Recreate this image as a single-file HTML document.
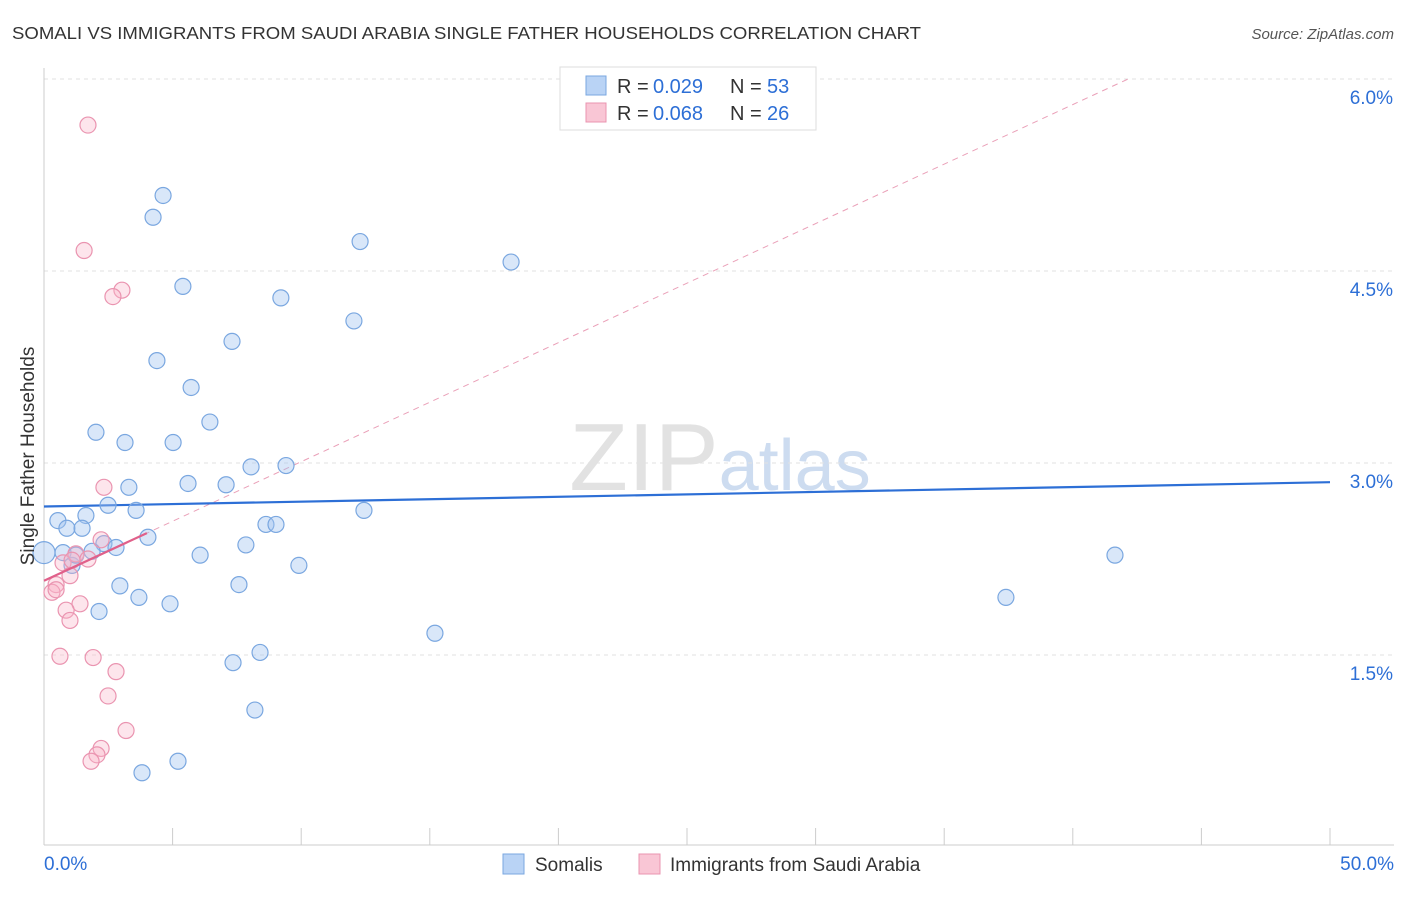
<!DOCTYPE html>
<html><head><meta charset="utf-8"><style>
body{margin:0;background:#fff;font-family:"Liberation Sans",sans-serif;}
svg text{font-family:"Liberation Sans",sans-serif;}
</style></head><body>
<svg id="chart" width="1406" height="892" xmlns="http://www.w3.org/2000/svg">
<text x="12" y="39" font-size="17.5" fill="#333" textLength="909" lengthAdjust="spacingAndGlyphs">SOMALI VS IMMIGRANTS FROM SAUDI ARABIA SINGLE FATHER HOUSEHOLDS CORRELATION CHART</text>
<text x="1394" y="39" font-size="15" fill="#555" text-anchor="end" font-style="italic">Source: ZipAtlas.com</text>
<text x="720" y="490" font-size="96" text-anchor="middle" font-family="Liberation Serif"><tspan fill="#e2e2e2">ZIP</tspan><tspan fill="#cddcf0" font-family="Liberation Sans" font-size="72">atlas</tspan></text>
<g id="grid"></g><g id="axes"></g><g id="lines"></g><g id="points"></g>
<text transform="translate(34,456) rotate(-90)" font-size="19" fill="#333" text-anchor="middle">Single Father Households</text>
<g>
<rect x="560" y="67" width="256" height="63" fill="#fff" stroke="#ddd"/>
<rect x="586" y="76" width="20" height="19" fill="#b9d3f5" stroke="#7aa7e0"/>
<text x="617" y="93" font-size="20" fill="#333">R =</text>
<text x="653" y="93" font-size="20" fill="#2d6fd6">0.029</text>
<text x="730" y="93" font-size="20" fill="#333">N =</text>
<text x="767" y="93" font-size="20" fill="#2d6fd6">53</text>
<rect x="586" y="103" width="20" height="19" fill="#f9c6d5" stroke="#ea94b0"/>
<text x="617" y="120" font-size="20" fill="#333">R =</text>
<text x="653" y="120" font-size="20" fill="#2d6fd6">0.068</text>
<text x="730" y="120" font-size="20" fill="#333">N =</text>
<text x="767" y="120" font-size="20" fill="#2d6fd6">26</text>
</g>
<g>
<rect x="503" y="854" width="21" height="20" fill="#b9d3f5" stroke="#7aa7e0"/>
<text x="535" y="871" font-size="19" fill="#333">Somalis</text>
<rect x="639" y="854" width="21" height="20" fill="#f9c6d5" stroke="#ea94b0"/>
<text x="670" y="871" font-size="19" fill="#333">Immigrants from Saudi Arabia</text>
</g>
</svg>
<script>
const yTicks=[1.5,3.0,4.5,6.0];
const xTickVals=[0,5,10,15,20,25,30,35,40,45,50];
const blueX=[4.63,4.24,12.29,18.16,5.40,9.21,12.05,7.31,4.39,5.72,6.45,2.02,3.15,5.02,8.05,9.41,5.60,7.08,3.30,12.44,2.49,3.58,0.54,1.63,8.63,9.02,0.89,1.48,4.04,7.85,2.33,2.80,1.87,0.74,0,6.07,41.64,1.09,9.91,7.58,2.95,3.69,4.90,37.40,2.14,15.20,8.40,7.35,8.20,5.21,3.81,1.24];
const blueY=[5.09,4.92,4.73,4.57,4.38,4.29,4.11,3.95,3.80,3.59,3.32,3.24,3.16,3.16,2.97,2.98,2.84,2.83,2.81,2.63,2.67,2.63,2.55,2.59,2.52,2.52,2.49,2.49,2.42,2.36,2.37,2.34,2.31,2.30,2.30,2.28,2.28,2.20,2.20,2.05,2.04,1.95,1.90,1.95,1.84,1.67,1.52,1.44,1.07,0.67,0.58,2.28];
const pinkX=[1.71,1.56,3.03,2.68,2.33,2.22,1.24,1.71,0.74,1.01,0.47,0.31,0.47,1.40,0.86,1.01,0.62,1.91,2.80,2.49,3.19,2.22,2.06,1.83,1.09];
const pinkY=[5.64,4.66,4.35,4.30,2.81,2.40,2.29,2.25,2.22,2.12,2.05,1.99,2.01,1.90,1.85,1.77,1.49,1.48,1.37,1.18,0.91,0.77,0.72,0.67,2.24];
const blueTrend=[2.66,2.85];
const pinkTrend=[2.08,0.093];
const NS="http://www.w3.org/2000/svg";
const xs=v=>44+v*25.72, ys=v=>847-v*128;
function mk(tag,attrs,parent){const e=document.createElementNS(NS,tag);for(const k in attrs)e.setAttribute(k,attrs[k]);document.getElementById(parent).appendChild(e);return e;}
yTicks.forEach(t=>{
 const l=mk('line',{x1:44,x2:1394,y1:ys(t),y2:ys(t),stroke:'#e2e2e2','stroke-dasharray':'4,4'},'grid');
 
 
 const tx=mk('text',{x:1393,y:ys(t)+25,'font-size':19,fill:'#2d6fd6','text-anchor':'end'},'grid');
 tx.textContent=t.toFixed(1)+'%';
 
 
});
const ya=mk('line',{x1:44,x2:44,y1:68,y2:845,stroke:'#ccc'},'axes');


const xa=mk('line',{x1:44,x2:1394,y1:845,y2:845,stroke:'#ccc'},'axes');


xTickVals.forEach(t=>{const l=mk('line',{x1:xs(t),x2:xs(t),y1:828,y2:845,stroke:'#ccc'},'axes');
 
 });
[[0,'start'],[50,'end']].forEach(([t,a])=>{const tx=mk('text',{x:xs(t)+(a=='start'?0:64),y:870,'font-size':19,fill:'#2d6fd6','text-anchor':a},'axes');tx.textContent=t.toFixed(1)+'%';
 
 });
const pEnd=(6.0-pinkTrend[0])/pinkTrend[1];
const pd=mk('line',{x1:xs(0),y1:ys(pinkTrend[0]),x2:xs(pEnd),y2:ys(6.0),stroke:'#eaa0b8','stroke-dasharray':'6,5','stroke-width':1},'lines');


const bt=mk('line',{x1:xs(0),y1:ys(blueTrend[0]),x2:xs(50),y2:ys(blueTrend[1]),stroke:'#2d6fd6','stroke-width':2.2},'lines');


blueX.forEach((x,i)=>{const c=mk('circle',{cx:xs(x),cy:ys(blueY[i]),r:x===0?11:8,fill:'rgba(160,196,240,0.4)',stroke:'#7aa7e0','stroke-width':1.2},'points');
 
 });
pinkX.forEach((x,i)=>{const c=mk('circle',{cx:xs(x),cy:ys(pinkY[i]),r:8,fill:'rgba(248,180,200,0.35)',stroke:'#ea94b0','stroke-width':1.2},'points');
 
 });
const ps=mk('line',{x1:xs(0),y1:ys(pinkTrend[0]),x2:xs(4),y2:ys(pinkTrend[0]+4*pinkTrend[1]),stroke:'#e0608a','stroke-width':2.2},'points');


</script>
</body></html>
